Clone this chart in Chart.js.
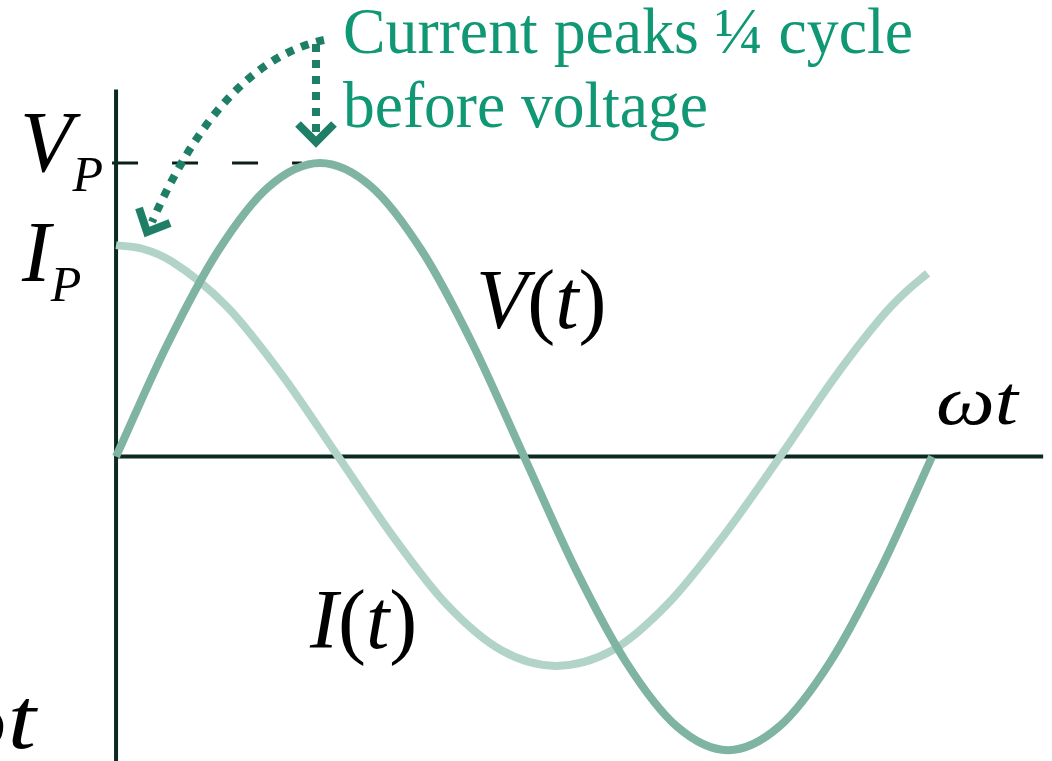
<!DOCTYPE html>
<html>
<head>
<meta charset="utf-8">
<script src="https://cdn.jsdelivr.net/npm/chart.js@4.4.1/dist/chart.umd.min.js"></script>
<style>
  html, body { margin: 0; padding: 0; background: #fff; overflow: hidden; }
  canvas { display: block; }
  .warm { position: absolute; left: -999px; top: 0; font-family: "Liberation Serif"; }
</style>
</head>
<body>
<canvas id="acChart" width="1052" height="761"></canvas>
<span class="warm">Current <i>V(t) ωt</i></span>
<script>
// phase of ωt in degrees (one voltage cycle = 360), values relative to V_P
const voltPhase = [0, 22.5, 45, 67.5, 90, 112.5, 135, 157.5, 180, 202.5, 225, 247.5, 270, 292.5, 315, 337.5, 360]
const voltage = [0, 0.38, 0.7, 0.92, 1, 0.92, 0.7, 0.38, 0, -0.38, -0.7, -0.92, -1, -0.92, -0.7, -0.38, 0]
const currPhase = [0, 12, 24.5, 49, 73.5, 98, 122, 146, 170, 194, 219, 243, 268, 293, 318, 340, 349, 358]
const current = [0.72, 0.707, 0.665, 0.51, 0.275, 0, -0.27, -0.505, -0.66, -0.713, -0.66, -0.505, -0.27, 0, 0.28, 0.495, 0.565, 0.624]

const peakV = 1
const peakI = 0.72

const axisColor = '#0c2a21'
const noteColor = '#0f9873'
const arrowColor = '#1f7f66'

const ctxEl = document.getElementById('acChart')
const serif = '"Liberation Serif", "Times New Roman", Times, serif'

// draws text pieces one after another, [text, italic, size, dy]
function richText(ctx, parts, x, y) {
  let cx = x
  parts.forEach(([t, it, size, dy]) => {
    ctx.font = (it ? 'italic ' : '') + size + 'px ' + serif
    ctx.fillText(t, cx, y + (dy || 0))
    cx += ctx.measureText(t).width
  })
}

// text squeezed or stretched to a given width
function fitText(ctx, t, font, x, y, w) {
  ctx.font = font
  const s = w / ctx.measureText(t).width
  ctx.save()
  ctx.translate(x, y)
  ctx.scale(s, 1)
  ctx.fillText(t, 0, 0)
  ctx.restore()
}

const overlay = {
  id: 'overlay',
  beforeDatasetsDraw(chart) {
    const {ctx, scales: {x, y}} = chart
    const x0 = x.getPixelForValue(0)
    const y0 = y.getPixelForValue(0)
    ctx.save()
    // dashed V_P guide
    ctx.strokeStyle = '#0a1f19'
    ctx.lineWidth = 3
    ctx.setLineDash([26, 34])
    ctx.beginPath()
    ctx.moveTo(x0 - 4, y.getPixelForValue(peakV))
    ctx.lineTo(x.getPixelForValue(82), y.getPixelForValue(peakV))
    ctx.stroke()
    ctx.setLineDash([])
    // axes
    ctx.strokeStyle = axisColor
    ctx.lineWidth = 4
    ctx.beginPath()
    ctx.moveTo(x0, y.getPixelForValue(1.25))
    ctx.lineTo(x0, chart.height)
    ctx.moveTo(x0, y0)
    ctx.lineTo(x.getPixelForValue(409), y0)
    ctx.stroke()
    ctx.restore()
  },
  afterDraw(chart) {
    const {ctx, scales: {y}} = chart
    ctx.save()
    ctx.fillStyle = '#000'
    ctx.textBaseline = 'alphabetic'
    richText(ctx, [['V', true, 86], ['P', true, 50, 20]], 20, y.getPixelForValue(peakV) + 8)
    richText(ctx, [['I', true, 86], ['P', true, 50, 20]], 22, y.getPixelForValue(peakI) + 36)
    richText(ctx, [['V', true, 84], ['(', false, 84], ['t', true, 84], [')', false, 84]], 476, 328)
    richText(ctx, [['I', true, 84], ['(', false, 84], ['t', true, 84], [')', false, 84]], 310, 648)
    fitText(ctx, 'ωt', 'italic 70px ' + serif, 936, 424, 82)
    fitText(ctx, 'ωt', 'italic 86px ' + serif, -64, 748, 100)

    // note text
    ctx.fillStyle = noteColor
    fitText(ctx, 'Current peaks ¼ cycle', '65px ' + serif, 343, 53, 570)
    fitText(ctx, 'before voltage', '65px ' + serif, 343, 127, 365)

    // dotted arrows
    ctx.strokeStyle = arrowColor
    ctx.lineWidth = 8
    ctx.setLineDash([8, 8])
    ctx.beginPath()
    ctx.moveTo(324, 40)
    ctx.quadraticCurveTo(222, 62, 152, 222)
    ctx.stroke()
    ctx.beginPath()
    ctx.moveTo(316, 44)
    ctx.lineTo(316, 132)
    ctx.stroke()
    ctx.setLineDash([])
    ctx.lineJoin = 'miter'
    ctx.beginPath()
    ctx.moveTo(298, 124)
    ctx.lineTo(316, 142)
    ctx.lineTo(334, 124)
    ctx.moveTo(139, 208)
    ctx.lineTo(147, 232)
    ctx.lineTo(170, 223)
    ctx.stroke()
    ctx.restore()
  }
}

function build() {
  new Chart(ctxEl, {
    type: 'line',
    data: {
      datasets: [{
        label: 'V(t)',
        data: voltPhase.map((p, i) => ({x: p, y: voltage[i]})),
        borderColor: '#80b4a2',
        borderWidth: 8,
        pointRadius: 0,
        cubicInterpolationMode: 'monotone',
      }, {
        label: 'I(t)',
        data: currPhase.map((p, i) => ({x: p, y: current[i]})),
        borderColor: '#b2d3c7',
        borderWidth: 8,
        pointRadius: 0,
        cubicInterpolationMode: 'monotone',
      }],
    },
    options: {
      responsive: false,
      animation: false,
      devicePixelRatio: 1,
      layout: {padding: 0},
      plugins: {legend: {display: false}, tooltip: {enabled: false}},
      scales: {
        x: {type: 'linear', min: -51.2, max: 412.9, display: false},
        y: {type: 'linear', min: -1.037, max: 1.555, display: false},
      },
    },
    plugins: [overlay],
  })
}

Promise.all([
  document.fonts.load('65px "Liberation Serif"'),
  document.fonts.load('italic 65px "Liberation Serif"'),
]).then(build, build)
</script>
</body>
</html>
